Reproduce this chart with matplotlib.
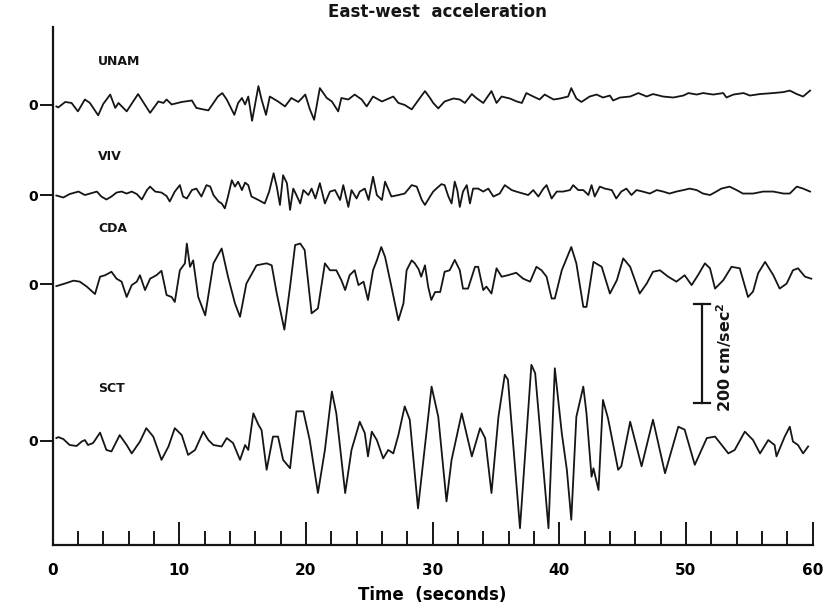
import matplotlib.pyplot as plt
import numpy as np

# East-west acceleration records
# time in seconds, acceleration in cm/sec^2
stations = ['UNAM', 'VIV', 'CDA', 'SCT']

unam_t = [0.3, 0.45, 1.0, 1.5, 2.0, 2.55, 2.95, 3.6, 4.0, 4.55, 4.95, 5.2, 5.85, 6.75, 7.7, 8.35, 8.75, 9.0, 9.4,
          10.2, 11.0, 11.35, 11.9, 12.3, 13.05, 13.4, 13.75, 14.35, 14.65, 14.95, 15.2, 15.45, 15.75, 16.25, 16.5,
          16.85, 17.15, 17.8, 18.35, 18.85, 19.4, 19.95, 20.3, 20.65, 21.1, 21.65, 22.05, 22.55, 22.8, 23.35, 23.85,
          24.4, 24.8, 25.3, 26.0, 26.9, 27.3, 27.8, 28.35, 29.0, 29.4, 29.8, 30.05, 30.45, 30.95, 31.65, 32.15,
          32.55, 33.1, 33.45, 34.0, 34.65, 35.05, 35.45, 36.1, 36.65, 37.05, 37.4, 37.95, 38.45, 38.85, 39.55,
          40.05, 40.7, 40.95, 41.35, 41.75, 42.4, 42.95, 43.45, 44.0, 44.25, 44.8, 45.6, 46.25, 46.9, 47.4, 48.2,
          49.0, 49.8, 50.2, 50.85, 51.35, 52.15, 52.95, 53.2, 53.75, 54.55, 55.05, 55.85, 56.9, 57.7, 58.2, 58.75,
          59.25, 59.8]
unam_a = [-3, -5, 6, 4, -13, 11, 4, -21, 2, 21, -6, 4, -13, 22, -16, 7, 4, 11, 1,
          6, 9, -6, -9, -11, 17, 24, 11, -20, 4, 14, 1, 17, -32, 38, 11,
          -20, 17, 7, -3, 14, 6, 21, -8, -30, 34, 14, 7, -13, 14, 11, 21,
          11, -3, 17, 7, 17, 4, 0, -9, 14, 28, 14, 4, -7, 7, 13, 11,
          4, 22, 14, 4, 28, 4, 17, 13, 7, 4, 24, 17, 11, 21, 11,
          13, 17, 34, 13, 6, 17, 21, 15, 19, 9, 15, 17, 24, 17, 22, 17,
          15, 19, 24, 21, 24, 21, 24, 15, 21, 24, 19, 22, 24, 26, 29, 22,
          17, 29]

viv_t = [0.3, 0.45, 0.85, 1.35, 2.05, 2.55, 2.95, 3.5, 3.85, 4.25, 4.65, 5.05, 5.45, 5.85, 6.25, 6.65, 7.05, 7.45,
         7.7, 8.1, 8.6, 9.0, 9.25, 9.65, 10.05, 10.3, 10.6, 11.0, 11.35, 11.75, 12.15, 12.45, 12.7, 13.1, 13.35,
         13.6, 13.85, 14.15, 14.4, 14.65, 14.95, 15.2, 15.45, 15.7, 16.25, 16.75, 17.1, 17.45, 17.7, 17.95, 18.2,
         18.5, 18.75, 19.0, 19.25, 19.55, 19.8, 20.2, 20.45, 20.75, 21.1, 21.5, 21.9, 22.3, 22.7, 22.95, 23.35,
         23.6, 24.0, 24.25, 24.65, 24.95, 25.3, 25.6, 26.0, 26.25, 26.75, 27.3, 27.8, 28.35, 28.75, 29.15, 29.4,
         29.8, 30.05, 30.3, 30.7, 30.95, 31.25, 31.5, 31.75, 31.95, 32.15, 32.4, 32.7, 32.95, 33.2, 33.6, 34.0,
         34.4, 34.8, 35.3, 35.7, 36.25, 36.6, 37.15, 37.55, 37.95, 38.35, 38.75, 39.0, 39.4, 39.8, 40.3, 40.85,
         41.1, 41.5, 41.9, 42.3, 42.55, 42.8, 43.2, 43.6, 44.15, 44.5, 44.9, 45.3, 45.7, 46.1, 46.6, 47.15, 47.7,
         48.2, 48.7, 49.25, 49.8, 50.3, 50.85, 51.35, 51.9, 52.4, 52.8, 53.45, 54.0, 54.5, 55.3, 56.1, 56.9,
         57.7, 58.2, 58.75, 59.25, 59.8]
viv_a = [-1, -2, -5, 2, 7, 0, 3, 7, -3, -9, -3, 5, 7, 3, 7, 2, -9, 10,
         17, 7, 5, -2, -13, 7, 20, -3, -7, 10, 13, -3, 20, 17, 0, -13, -17,
         -27, -3, 30, 17, 27, 10, 25, 20, -3, -10, -17, 7, 44, 17, -20, 40,
         24, -30, 13, 0, -17, 10, 0, 13, -7, 24, -17, 7, 10, -10, 20, -24,
         10, -7, 7, 13, -10, 37, 0, -10, 27, -3, 0, 3, 20, 17, -10, -20,
         -3, 7, 13, 22, 20, -3, -17, 27, 10, -24, 7, 20, -17, 13, 13, 7,
         13, -3, 3, 20, 10, 7, 3, 0, 10, -3, 13, 20, -7, 7, 7, 10,
         20, 10, 10, 0, 20, -3, 17, 13, 10, -7, 7, 13, 0, 10, 7, 3, 10,
         7, 3, 7, 10, 13, 10, 3, 0, 7, 13, 17, 10, 3, 3, 7, 7,
         3, 3, 17, 13, 7]

cda_t = [0.3, 0.95, 1.65, 2.15, 2.7, 3.35, 3.75, 4.15, 4.65, 5.05, 5.45, 5.85, 6.25, 6.65, 6.9, 7.3, 7.7, 8.2, 8.6,
         9.0, 9.4, 9.65, 10.05, 10.45, 10.6, 10.85, 11.1, 11.5, 12.05, 12.7, 13.35, 13.85, 14.4, 14.8, 15.3, 16.1,
         16.9, 17.3, 17.7, 18.3, 18.75, 19.15, 19.55, 19.9, 20.45, 20.95, 21.5, 21.9, 22.4, 22.8, 23.1, 23.45,
         23.85, 24.15, 24.55, 24.9, 25.3, 25.6, 25.95, 26.25, 26.75, 27.3, 27.7, 27.95, 28.35, 28.6, 28.9, 29.1,
         29.4, 29.65, 29.9, 30.2, 30.6, 30.95, 31.35, 31.75, 32.15, 32.4, 32.8, 33.35, 33.6, 34.0, 34.25, 34.65,
         35.05, 35.45, 35.95, 36.6, 37.15, 37.7, 38.2, 38.6, 39.0, 39.4, 39.65, 40.2, 40.95, 41.35, 41.9, 42.15,
         42.7, 43.35, 44.0, 44.55, 45.05, 45.6, 46.35, 46.9, 47.4, 47.95, 48.6, 49.25, 49.9, 50.45, 50.95, 51.5,
         51.9, 52.3, 52.95, 53.6, 54.25, 54.9, 55.3, 55.7, 56.25, 56.9, 57.4, 57.95, 58.45, 58.85, 59.4, 59.9]
cda_a = [-4, 1, 7, 5, -5, -20, 15, 18, 25, 11, 5, -26, -2, 5, 18, -12, 11, 18, 27,
         -22, -26, -36, 28, 42, 82, 35, 48, -26, -63, 42, 72, 15, -39, -66, 1, 38,
         42, 38, -19, -92, -5, 79, 82, 69, -59, -49, 42, 28, 28, 8, -12, 18,
         28, -2, 5, -32, 28, 48, 75, 55, -5, -73, -39, 28, 48, 42, 30, 15,
         38, -5, -32, -16, -16, 25, 28, 49, 28, -9, -9, 35, 35, -12, -5, -19,
         32, 15, 18, 23, 11, 5, 35, 28, 15, -29, -29, 28, 75, 42, -46, -46,
         45, 35, -19, 8, 52, 35, -19, 1, 25, 28, 15, 5, 18, -2, 18, 42,
         32, -9, 8, 35, 32, -26, -15, 22, 45, 18, -9, 1, 28, 32, 15, 11]

sct_t = [0.3, 0.45, 0.85, 1.35, 1.9, 2.3, 2.55, 2.8, 3.2, 3.75, 4.25, 4.65, 5.3, 5.85, 6.25, 6.9, 7.4, 7.95, 8.6,
         9.15, 9.65, 10.2, 10.7, 11.25, 11.9, 12.3, 12.7, 13.35, 13.75, 14.25, 14.8, 15.2, 15.45, 15.85, 16.25,
         16.5, 16.9, 17.4, 17.8, 18.2, 18.75, 19.25, 19.8, 20.3, 20.95, 21.5, 22.05, 22.4, 23.1, 23.6, 24.25,
         24.65, 24.9, 25.2, 25.6, 26.1, 26.5, 26.9, 27.3, 27.8, 28.2, 28.85, 29.92, 30.45, 31.1, 31.5, 32.3,
         33.1, 33.75, 34.15, 34.65, 35.2, 35.7, 35.95, 36.9, 37.8, 38.1, 39.15, 39.65, 40.2, 40.6, 40.95, 41.35,
         41.9, 42.15, 42.55, 42.7, 43.1, 43.45, 43.85, 44.65, 44.9, 45.6, 46.5, 47.4, 48.35, 49.4, 49.9, 50.7,
         51.65, 52.3, 52.7, 53.35, 53.85, 54.65, 55.3, 55.85, 56.5, 57.0, 57.15, 57.8, 58.2, 58.45, 58.85, 59.25,
         59.65]
sct_a = [5, 7, 3, -9, -11, -2, 1, -9, -5, 16, -19, -22, 11, -9, -26, -2, 25, 8, -39,
         -12, 25, 11, -29, -19, 18, 1, -9, -12, 5, -5, -39, -9, -19, 55, 32,
         21, -59, 8, 8, -39, -56, 59, 59, 1, -106, -19, 99, 55, -106, -19, 38,
         15, -32, 18, 1, -36, -19, -26, 11, 69, 42, -137, 109, 48, -123, -39, 55,
         -32, 25, 5, -106, 48, 133, 123, -177, 153, 136, -177, 146, 15, -59, -160, 48,
         109, 55, -73, -56, -100, 82, 45, -59, -52, 38, -52, 42, -66, 28, 22, -49,
         5, 8, -5, -26, -19, 18, 1, -26, 1, -9, -32, 8, 28, -2, -9, -26,
         -12]

traces = {'UNAM': (unam_t, unam_a), 'VIV': (viv_t, viv_a), 'CDA': (cda_t, cda_a), 'SCT': (sct_t, sct_a)}

# vertical position of each zero line and its station label
offsets = {'UNAM': 889, 'VIV': 707, 'CDA': 527, 'SCT': 211}
label_y = {'UNAM': 976, 'VIV': 784, 'CDA': 640, 'SCT': 317}

scale_value = 200  # cm/sec^2
scale_t = 51.25
scale_base = 287

plt.rcParams['font.family'] = ['DejaVu Sans']
plt.rcParams['font.weight'] = 'bold'

fig = plt.figure(figsize=(8.33, 6.09), dpi=100)
ax = fig.add_axes([0.0631, 0.1051, 0.9124, 0.8506])

ink = '#151515'
for name in stations:
    t, a = traces[name]
    ax.plot(t, offsets[name] + np.array(a), color=ink, lw=1.3)
    ax.text(3.6, label_y[name], name, fontsize=9, fontweight='bold', va='center', ha='left', color=ink)

# scale bar
ax.plot([scale_t, scale_t], [scale_base, scale_base + scale_value], color=ink, lw=1.6)
ax.plot([scale_t - 0.65, scale_t + 0.65], [scale_base, scale_base], color=ink, lw=1.6)
ax.plot([scale_t - 0.65, scale_t + 0.65], [scale_base + scale_value, scale_base + scale_value], color=ink, lw=1.6)
ax.text(scale_t + 1.8, scale_base + scale_value / 2 - 8, r'200 cm/sec$^\mathbf{2}$', rotation=90,
        fontsize=11.5, fontweight='bold', va='center', ha='center', color=ink)

ax.set_xlim(0, 60)
ax.set_ylim(0, 1046.5)
ax.spines['top'].set_visible(False)
ax.spines['right'].set_visible(False)
ax.spines['left'].set_linewidth(1.6)
ax.spines['bottom'].set_linewidth(1.6)
ax.spines['left'].set_color(ink)
ax.spines['bottom'].set_color(ink)

ax.set_xticks(np.arange(0, 61, 10))
ax.set_xticks(np.arange(0, 61, 2), minor=True)
ax.tick_params(axis='x', which='major', direction='in', length=16.5, width=1.4, pad=13,
               labelsize=11, color=ink)
ax.tick_params(axis='x', which='minor', direction='in', length=10, width=1.4, color=ink)

ax.set_yticks([offsets[n] for n in stations], ['0'] * len(stations))
ax.tick_params(axis='y', direction='out', length=9.4, width=1.4, pad=1, labelsize=10, color=ink)

ax.set_xlabel('Time  (seconds)', fontsize=12, fontweight='bold', labelpad=6)
fig.text(0.525, 1 - 12 / 609, 'East-west  acceleration', ha='center', va='center',
         fontsize=12, fontweight='bold', color=ink)

fig.savefig('out.png', dpi=100)
